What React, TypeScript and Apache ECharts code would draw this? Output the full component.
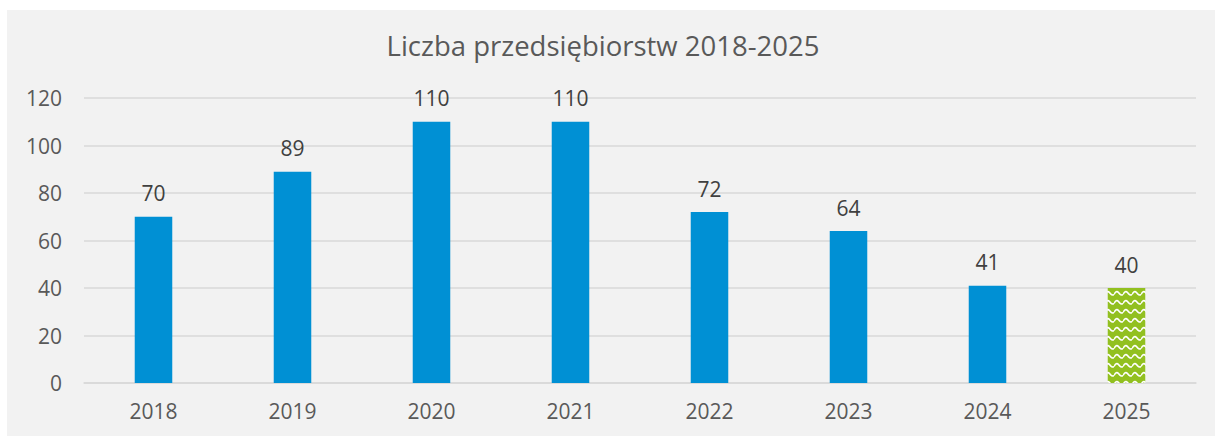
import React, { useEffect, useRef } from "react";
import * as echarts from "echarts";

const years = ["2018", "2019", "2020", "2021", "2022", "2023", "2024", "2025"];
const counts = [70, 89, 110, 110, 72, 64, 41, 40];
const yTicks = [0, 20, 40, 60, 80, 100, 120];

function makePattern(): HTMLCanvasElement {
  const c = document.createElement("canvas");
  c.width = 9;
  c.height = 9;
  const ctx = c.getContext("2d")!;
  ctx.fillStyle = "#92c020";
  ctx.fillRect(0, 0, 9, 9);
  ctx.strokeStyle = "#ffffff";
  ctx.lineWidth = 1.6;
  ctx.beginPath();
  ctx.moveTo(0, 5.5);
  ctx.quadraticCurveTo(2.25, 1, 4.5, 3.5);
  ctx.quadraticCurveTo(6.75, 7, 9, 5.5);
  ctx.stroke();
  return c;
}

export default function App() {
  const ref = useRef<HTMLDivElement>(null);
  useEffect(() => {
    if (!ref.current) return;
    const chart = echarts.init(ref.current, null, { renderer: "svg" });
    const pattern = makePattern();
    const font = "'Open Sans', sans-serif";
    chart.setOption({
      animation: false,
      backgroundColor: "#f2f2f2",
      title: {
        text: "Liczba przedsiębiorstw 2018-2025",
        left: 591,
        textAlign: "center",
        top: 16,
        textStyle: { fontFamily: font, fontSize: 27.5, fontWeight: "normal", color: "#595959" },
      },
      grid: { left: 77, right: 19, top: 88, bottom: 53 },
      xAxis: {
        type: "category",
        data: years,
        axisLine: { lineStyle: { color: "#d9d9d9", width: 1.5 } },
        axisTick: { show: false },
        axisLabel: { fontFamily: font, fontSize: 21, color: "#595959", margin: 17 },
      },
      yAxis: {
        type: "value",
        min: yTicks[0],
        max: yTicks[yTicks.length - 1],
        interval: 20,
        axisLine: { show: false },
        axisTick: { show: false },
        splitLine: { lineStyle: { color: "#d9d9d9", width: 1.5 } },
        axisLabel: { fontFamily: font, fontSize: 21, color: "#595959", margin: 22 },
      },
      series: [
        {
          type: "bar",
          barWidth: "27%",
          data: counts.map((v, i) => ({
            value: v,
            itemStyle: {
              color: i === counts.length - 1 ? { image: pattern, repeat: "repeat" } : "#0090d4",
            },
          })),
          label: {
            show: true,
            position: "top",
            distance: 13,
            fontFamily: font,
            fontSize: 21,
            color: "#404040",
          },
        },
      ],
    });
    return () => chart.dispose();
  }, []);
  return (
    <div
      ref={ref}
      style={{ position: "absolute", left: 7, top: 10, width: 1208, height: 426 }}
    />
  );
}
